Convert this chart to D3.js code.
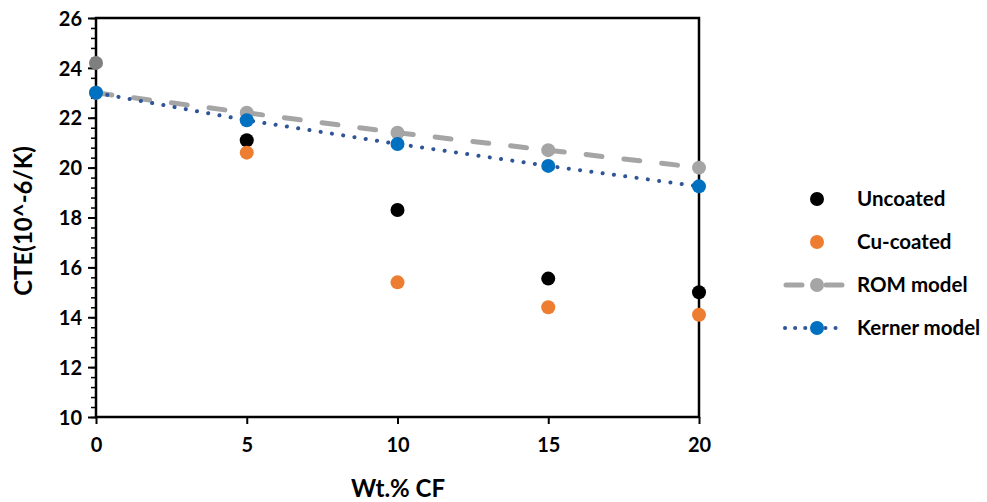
<!DOCTYPE html>
<html>
<head>
<meta charset="utf-8">
<script src="https://cdn.jsdelivr.net/npm/d3@7"></script>
<style>
  body { margin: 0; background: #fff; }
  text { font-family: Lato, "Open Sans", sans-serif; font-weight: bold; fill: #000; }
</style>
</head>
<body>
<div id="chart"></div>
<script>
// values
var wtCF = [0, 5, 10, 15, 20];
var uncoated = [null, 21.1, 18.3, 15.55, 15.0];
var cuCoated = [null, 20.6, 15.4, 14.4, 14.1];
var matrix = [24.2];          // shared 0 wt.% point
var romModel = [23.0, 22.2, 21.4, 20.7, 20.0];
var kernerModel = [23.0, 21.9, 20.95, 20.07, 19.25];
var xTicks = [0, 5, 10, 15, 20];
var yTicks = [10, 12, 14, 16, 18, 20, 22, 24, 26];

var W = 987, H = 502;
var margin = {top: 18, right: 288, bottom: 85, left: 96},
    width = W - margin.left - margin.right,
    height = H - margin.top - margin.bottom;

var svg = d3.select("#chart").append("svg")
    .attr("width", W)
    .attr("height", H);

var g = svg.append("g")
    .attr("transform", "translate(" + margin.left + "," + margin.top + ")");

var x = d3.scaleLinear().domain([0, 20]).range([0, width]);
var y = d3.scaleLinear().domain([10, 26]).range([height, 0]);

// minor y ticks
g.append("g")
    .call(d3.axisLeft(y).tickValues(d3.range(10, 26.01, 0.4)).tickSize(5).tickFormat(""))
    .call(s => s.select(".domain").remove())
    .selectAll("line").attr("stroke", "#000").attr("stroke-width", 1.5);

// major y ticks
var yAxis = g.append("g")
    .call(d3.axisLeft(y).tickValues(yTicks).tickSize(8).tickPadding(6))
yAxis.select(".domain").remove();
yAxis.selectAll("line").attr("stroke", "#000").attr("stroke-width", 2);
yAxis.selectAll("text").style("font-size", "20px").attr("dy", "0.36em");

// x ticks
var xAxis = g.append("g")
    .attr("transform", "translate(0," + height + ")")
    .call(d3.axisBottom(x).tickValues(xTicks).tickSize(7).tickPadding(14));
xAxis.select(".domain").remove();
xAxis.selectAll("line").attr("stroke", "#000").attr("stroke-width", 2);
xAxis.selectAll("text").style("font-size", "20px");

// frame
g.append("rect")
    .attr("x", 0).attr("y", 0)
    .attr("width", width).attr("height", height)
    .attr("fill", "none")
    .attr("stroke", "#000")
    .attr("stroke-width", 2.5);

var line = d3.line()
    .x((d, i) => x(wtCF[i]))
    .y(d => y(d));

g.append("path")
    .datum(romModel)
    .attr("d", line)
    .attr("fill", "none")
    .attr("stroke", "#a5a5a5")
    .attr("stroke-width", 5)
    .attr("stroke-linecap", "round")
    .attr("stroke-dasharray", "16,22");

g.append("path")
    .datum(kernerModel)
    .attr("d", line)
    .attr("fill", "none")
    .attr("stroke", "#2f5597")
    .attr("stroke-width", 4)
    .attr("stroke-linecap", "round")
    .attr("stroke-dasharray", "0.1,11.3");

function dots(vals, color) {
    g.selectAll(null)
        .data(vals.map((v, i) => ({x: wtCF[i], v: v})).filter(d => d.v != null))
        .enter()
        .append("circle")
        .attr("cx", d => x(d.x))
        .attr("cy", d => y(d.v))
        .attr("r", 7)
        .attr("fill", color);
}

dots(matrix, "#7f7f7f");
dots(romModel, "#a5a5a5");
dots(uncoated, "#000000");
dots(cuCoated, "#ed7d31");
dots(kernerModel, "#0070c0");

// axis titles
svg.append("text")
    .attr("x", 398)
    .attr("y", 497)
    .attr("text-anchor", "middle")
    .style("font-size", "24px")
    .text("Wt.% CF");

svg.append("text")
    .attr("transform", "translate(32,221) rotate(-90)")
    .attr("text-anchor", "middle")
    .style("font-size", "24px")
    .text("CTE(10^-6/K)");

// legend
var legend = [
    {name: "Uncoated", color: "#000000", type: "point"},
    {name: "Cu-coated", color: "#ed7d31", type: "point"},
    {name: "ROM model", color: "#a5a5a5", type: "dash"},
    {name: "Kerner model", color: "#0070c0", line: "#2f5597", type: "dot"}
];

var lg = svg.append("g");
legend.forEach(function(d, i) {
    var cy = 199 + i * 43;
    if (d.type == "dash") {
        lg.append("line")
            .attr("x1", 786).attr("x2", 842).attr("y1", cy).attr("y2", cy)
            .attr("stroke", d.color).attr("stroke-width", 5)
            .attr("stroke-linecap", "round")
            .attr("stroke-dasharray", "16,24");
    }
    if (d.type == "dot") {
        lg.append("line")
            .attr("x1", 785).attr("x2", 845).attr("y1", cy).attr("y2", cy)
            .attr("stroke", d.line).attr("stroke-width", 4)
            .attr("stroke-linecap", "round")
            .attr("stroke-dasharray", "0.1,10");
    }
    lg.append("circle")
        .attr("cx", 817).attr("cy", cy).attr("r", 7)
        .attr("fill", d.color);
    lg.append("text")
        .attr("x", 857).attr("y", cy)
        .attr("dy", "0.36em")
        .style("font-size", "20.5px")
        .text(d.name);
});
</script>
</body>
</html>
